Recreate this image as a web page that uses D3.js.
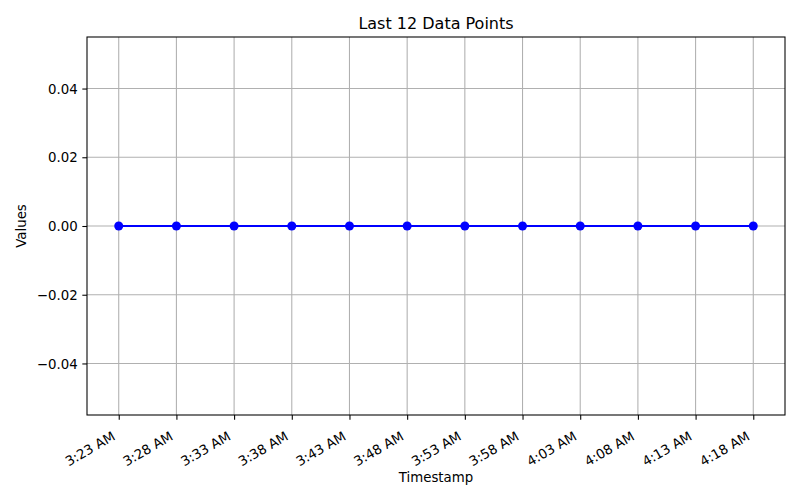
<!DOCTYPE html>
<html>
<head>
<meta charset="utf-8">
<script src="https://cdn.jsdelivr.net/npm/d3@7"></script>
<style>
    body { margin: 0; background: #fff; }
    svg { width: 800px; height: 500px; font-family: "DejaVu Sans", sans-serif; }
</style>
</head>
<body>
<svg></svg>
<script>
// данные графика
const timeLabels = ["3:23 AM", "3:28 AM", "3:33 AM", "3:38 AM", "3:43 AM", "3:48 AM",
                    "3:53 AM", "3:58 AM", "4:03 AM", "4:08 AM", "4:13 AM", "4:18 AM"];
const values = [0, 0, 0, 0, 0, 0, 0, 0, 0, 0, 0, 0];
const yTicks = [-0.04, -0.02, 0.00, 0.02, 0.04];

function drawGraph() {
    let svg = d3.select("svg");
    svg.selectAll('*').remove();

    // область построения
    const area = { left: 87, right: 785, top: 37, bottom: 415 };

    const data = timeLabels.map((t, i) => ({ label: t, idx: i, value: values[i] }));

    // шкалы, поля 5% как в matplotlib
    const n = data.length - 1;
    let scX = d3.scaleLinear()
        .domain([-0.05 * n, n + 0.05 * n])
        .range([area.left, area.right]);
    let scY = d3.scaleLinear()
        .domain([-0.055, 0.055])
        .range([area.bottom, area.top]);

    // сетка
    svg.append("g").selectAll("line")
        .data(data)
        .enter()
        .append("line")
        .attr("x1", d => scX(d.idx)).attr("x2", d => scX(d.idx))
        .attr("y1", area.top).attr("y2", area.bottom)
        .attr("stroke", "#b0b0b0").attr("stroke-width", 1.07);
    svg.append("g").selectAll("line")
        .data(yTicks)
        .enter()
        .append("line")
        .attr("x1", area.left).attr("x2", area.right)
        .attr("y1", d => scY(d)).attr("y2", d => scY(d))
        .attr("stroke", "#b0b0b0").attr("stroke-width", 1.07);

    // ось X
    let axisX = d3.axisBottom(scX)
        .tickValues(data.map(d => d.idx))
        .tickFormat(i => timeLabels[i])
        .tickSize(4.67)
        .tickSizeOuter(0);
    let gx = svg.append("g")
        .attr("transform", `translate(0, ${area.bottom})`)
        .call(axisX);
    gx.select(".domain").remove();
    gx.selectAll("line").attr("stroke", "#000").attr("stroke-width", 1.07);
    gx.selectAll("text")
        .attr("font-size", "13.33px")
        .attr("font-family", "DejaVu Sans")
        .attr("fill", "#000")
        .style("text-anchor", "end")
        .attr("y", 0).attr("dy", 0)
        .attr("transform", "translate(-3, 24) rotate(-30)");

    // ось Y
    let axisY = d3.axisLeft(scY)
        .tickValues(yTicks)
        .tickFormat(d => d3.format(".2f")(d).replace("-", "\u2212"))
        .tickSize(4.67)
        .tickSizeOuter(0);
    let gy = svg.append("g")
        .attr("transform", `translate(${area.left}, 0)`)
        .call(axisY);
    gy.select(".domain").remove();
    gy.selectAll("line").attr("stroke", "#000").attr("stroke-width", 1.07);
    gy.selectAll("text")
        .attr("font-size", "13.33px")
        .attr("font-family", "DejaVu Sans")
        .attr("fill", "#000")
        .attr("x", -9.3)
        .attr("dy", "0.35em");

    // рамка
    svg.append("rect")
        .attr("x", area.left).attr("y", area.top)
        .attr("width", area.right - area.left).attr("height", area.bottom - area.top)
        .attr("fill", "none").attr("stroke", "#000").attr("stroke-width", 1.07);

    // линия и точки
    const lineGenerator = d3.line()
        .x(d => scX(d.idx))
        .y(d => scY(d.value));
    svg.append("path")
        .datum(data)
        .attr("fill", "none")
        .attr("stroke", "blue")
        .attr("stroke-width", 2)
        .attr("d", lineGenerator);
    svg.selectAll(".dot")
        .data(data)
        .enter()
        .append("circle")
        .attr("r", 4.5)
        .attr("cx", d => scX(d.idx))
        .attr("cy", d => scY(d.value))
        .style("fill", "blue");

    // подписи
    const cx = (area.left + area.right) / 2;
    svg.append("text")
        .attr("x", cx).attr("y", 29)
        .attr("text-anchor", "middle")
        .attr("font-size", "16px")
        .text("Last 12 Data Points");
    svg.append("text")
        .attr("x", cx).attr("y", 482)
        .attr("text-anchor", "middle")
        .attr("font-size", "13.33px")
        .text("Timestamp");
    svg.append("text")
        .attr("transform", `translate(26, ${(area.top + area.bottom) / 2}) rotate(-90)`)
        .attr("text-anchor", "middle")
        .attr("font-size", "13.33px")
        .text("Values");
}

drawGraph();
</script>
</body>
</html>
